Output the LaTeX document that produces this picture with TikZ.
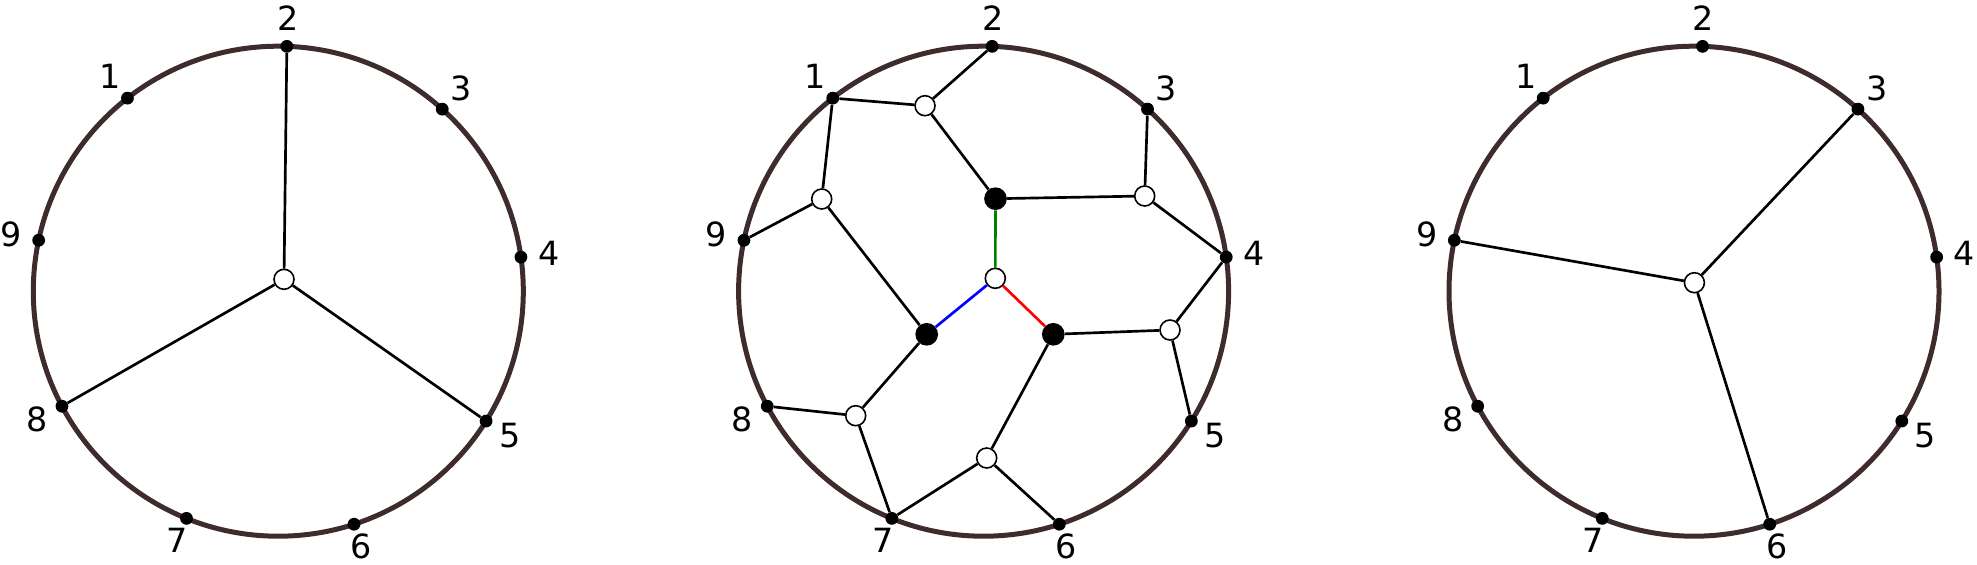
\documentclass[tikz,border=0pt]{standalone}
\usepackage{fontspec}
\setmainfont{DejaVu Sans}
\usetikzlibrary{calc}
\definecolor{rim}{RGB}{62,44,44}
\definecolor{edgegreen}{RGB}{0,128,0}
\begin{document}
\begin{tikzpicture}[x=0.75pt,y=-0.75pt,
  rimline/.style={draw=rim,line width=3.75pt},
  bdot/.style={circle,fill=black,inner sep=0pt,minimum size=9.6pt},
  wnode/.style={circle,draw=black,fill=white,line width=1.2pt,inner sep=0pt,minimum size=15pt},
  bnode/.style={circle,fill=black,inner sep=0pt,minimum size=17pt},
  lbl/.style={inner sep=0pt,font=\fontsize{25pt}{30pt}\selectfont},
  edge/.style={line width=2pt,draw=black}]
\useasboundingbox (0,0) rectangle (1977,564);
% circle centres
\coordinate (Lo) at (278.3,291.2);
\coordinate (Mo) at (983.6,291.2);
\coordinate (Ro) at (1694,291.2);
\draw[rimline] (Lo) circle[radius=245];
\draw[rimline] (Mo) circle[radius=245];
\draw[rimline] (Ro) circle[radius=245];
% boundary dots and labels
\foreach \p in {L,M,R}{
  \foreach \k/\lr in {1/273,2/273,3/273,4/273,5/273,6/268,7/269,8/273,9/273}{
    \pgfmathsetmacro{\ang}{-(168-40*\k)}
    \node[bdot] (\p\k) at ($(\p o)+(\ang:245)$) {};
    \node[lbl] (\p lab\k) at ($(\p o)+(\ang:\lr)$) {\k};
  }
}
% left picture
\node[wnode] (Lc) at (284,279.3) {};
\draw[edge] (Lc) -- (L2);
\draw[edge] (Lc) -- (L8);
\draw[edge] (Lc) -- (L5);
% right picture
\node[wnode] (Rc) at (1694.4,282.7) {};
\draw[edge] (Rc) -- (R3);
\draw[edge] (Rc) -- (R9);
\draw[edge] (Rc) -- (R6);
% middle picture
\node[wnode] (a) at (925,105.7) {};
\node[bnode] (b) at (995.5,198.7) {};
\node[wnode] (c) at (1144.7,196) {};
\node[wnode] (d) at (821.7,199) {};
\node[wnode] (e) at (995.3,278.3) {};
\node[bnode] (f) at (926.7,334.3) {};
\node[bnode] (g) at (1053.3,334.3) {};
\node[wnode] (h) at (1170,330) {};
\node[wnode] (i) at (855.7,415.7) {};
\node[wnode] (j) at (986.7,458) {};
\draw[edge] (M1) -- (a);
\draw[edge] (a) -- (M2);
\draw[edge] (a) -- (b);
\draw[edge] (b) -- (c);
\draw[edge] (c) -- (M3);
\draw[edge] (c) -- (M4);
\draw[edge] (M1) -- (d);
\draw[edge] (d) -- (M9);
\draw[edge] (d) -- (f);
\draw[edge,draw=edgegreen] (b) -- (e);
\draw[edge,draw=blue] (e) -- (f);
\draw[edge,draw=red] (e) -- (g);
\draw[edge] (g) -- (h);
\draw[edge] (h) -- (M4);
\draw[edge] (h) -- (M5);
\draw[edge] (f) -- (i);
\draw[edge] (i) -- (M8);
\draw[edge] (i) -- (M7);
\draw[edge] (g) -- (j);
\draw[edge] (j) -- (M7);
\draw[edge] (j) -- (M6);
\end{tikzpicture}
\end{document}
